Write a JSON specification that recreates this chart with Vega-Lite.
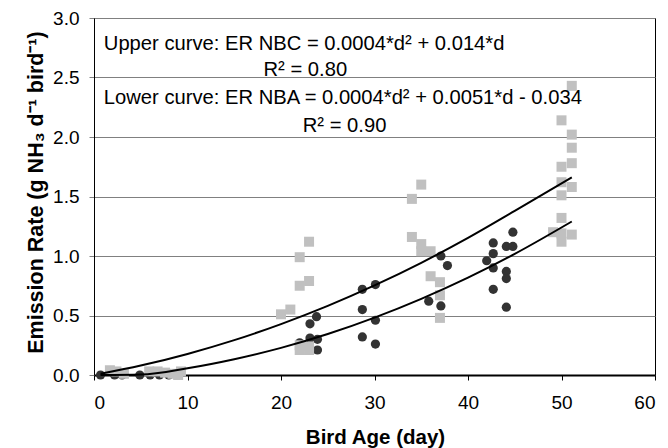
{
  "$schema": "https://vega.github.io/schema/vega-lite/v6.json",
  "width": 561,
  "height": 357,
  "autosize": "none",
  "padding": {"left": 94, "top": 18, "right": 13, "bottom": 73},
  "background": "white",
  "config": {
    "font": "Liberation Sans",
    "view": {"stroke": "#000000", "strokeWidth": 1},
    "axis": {"labelFont": "Liberation Sans", "titleFont": "Liberation Sans", "labelColor": "#000", "titleColor": "#000"}
  },
  "datasets": {
    "nbc": [
      {"day": 1.7, "er": 0.04}, {"day": 2.4, "er": 0.03}, {"day": 3.2, "er": 0.01},
      {"day": 5.9, "er": 0.03}, {"day": 6.8, "er": 0.03}, {"day": 7.6, "er": 0.02},
      {"day": 8.4, "er": 0.01}, {"day": 9.3, "er": 0.03}, {"day": 9.0, "er": 0.0},
      {"day": 20.0, "er": 0.51}, {"day": 21.0, "er": 0.55}, {"day": 22.0, "er": 0.99},
      {"day": 23.0, "er": 1.12}, {"day": 22.0, "er": 0.75}, {"day": 23.0, "er": 0.79},
      {"day": 22.0, "er": 0.21}, {"day": 23.0, "er": 0.21}, {"day": 22.0, "er": 0.25},
      {"day": 23.0, "er": 0.24},
      {"day": 34.0, "er": 1.48}, {"day": 35.0, "er": 1.60}, {"day": 34.0, "er": 1.16},
      {"day": 35.0, "er": 1.10}, {"day": 35.0, "er": 1.04}, {"day": 36.0, "er": 1.04},
      {"day": 36.0, "er": 0.83}, {"day": 37.0, "er": 0.78}, {"day": 37.0, "er": 0.67},
      {"day": 37.0, "er": 0.48},
      {"day": 51.1, "er": 2.43}, {"day": 50.0, "er": 2.14}, {"day": 51.1, "er": 2.02},
      {"day": 51.1, "er": 1.91}, {"day": 50.0, "er": 1.75}, {"day": 51.1, "er": 1.78},
      {"day": 50.0, "er": 1.62}, {"day": 51.1, "er": 1.58}, {"day": 50.0, "er": 1.51},
      {"day": 50.0, "er": 1.32}, {"day": 49.1, "er": 1.20}, {"day": 50.0, "er": 1.19},
      {"day": 51.1, "er": 1.18}, {"day": 50.0, "er": 1.12}
    ],
    "nba": [
      {"day": 0.7, "er": 0.0}, {"day": 2.2, "er": 0.0}, {"day": 3.0, "er": 0.0},
      {"day": 4.9, "er": 0.0}, {"day": 6.0, "er": 0.0}, {"day": 7.0, "er": 0.0},
      {"day": 8.0, "er": 0.0},
      {"day": 23.8, "er": 0.49}, {"day": 23.1, "er": 0.43}, {"day": 22.0, "er": 0.27},
      {"day": 23.1, "er": 0.31}, {"day": 23.9, "er": 0.30}, {"day": 23.9, "er": 0.21},
      {"day": 22.0, "er": 0.24},
      {"day": 28.7, "er": 0.72}, {"day": 30.1, "er": 0.76}, {"day": 28.7, "er": 0.55},
      {"day": 30.1, "er": 0.46}, {"day": 28.7, "er": 0.32}, {"day": 30.1, "er": 0.26},
      {"day": 37.1, "er": 1.00}, {"day": 37.8, "er": 0.92}, {"day": 35.8, "er": 0.62},
      {"day": 37.1, "er": 0.58},
      {"day": 44.8, "er": 1.20}, {"day": 42.7, "er": 1.11}, {"day": 44.1, "er": 1.08},
      {"day": 44.8, "er": 1.08}, {"day": 42.7, "er": 1.02}, {"day": 42.0, "er": 0.96},
      {"day": 42.7, "er": 0.90}, {"day": 44.1, "er": 0.87}, {"day": 44.1, "er": 0.81},
      {"day": 42.7, "er": 0.72}, {"day": 44.1, "er": 0.57}
    ],
    "curves": [
      {"curve": "upper", "day": 0.7, "er": 0.01}, {"curve": "upper", "day": 5, "er": 0.079},
      {"curve": "upper", "day": 10, "er": 0.177}, {"curve": "upper", "day": 15, "er": 0.293},
      {"curve": "upper", "day": 20, "er": 0.428}, {"curve": "upper", "day": 25, "er": 0.581},
      {"curve": "upper", "day": 30, "er": 0.753}, {"curve": "upper", "day": 35, "er": 0.943},
      {"curve": "upper", "day": 40, "er": 1.152}, {"curve": "upper", "day": 45, "er": 1.379},
      {"curve": "upper", "day": 51.1, "er": 1.66},
      {"curve": "lower", "day": 0.7, "er": 0.0}, {"curve": "lower", "day": 5, "er": 0.004},
      {"curve": "lower", "day": 10, "er": 0.057}, {"curve": "lower", "day": 15, "er": 0.133},
      {"curve": "lower", "day": 20, "er": 0.228}, {"curve": "lower", "day": 25, "er": 0.344},
      {"curve": "lower", "day": 30, "er": 0.482}, {"curve": "lower", "day": 35, "er": 0.640},
      {"curve": "lower", "day": 40, "er": 0.818}, {"curve": "lower", "day": 45, "er": 1.018},
      {"curve": "lower", "day": 51.1, "er": 1.29}
    ],
    "notes": [
      {"label": "Upper curve: ER NBC = 0.0004*d² + 0.014*d", "day": 1.05, "er": 2.735, "align": "left"},
      {"label": "R² = 0.80", "day": 22.6, "er": 2.51, "align": "center"},
      {"label": "Lower curve: ER NBA = 0.0004*d² + 0.0051*d - 0.034", "day": 1.05, "er": 2.275, "align": "left"},
      {"label": "R² = 0.90", "day": 26.8, "er": 2.045, "align": "center"}
    ]
  },
  "layer": [
    {
      "data": {"name": "nba"},
      "mark": {"type": "circle", "size": 85, "color": "#333333", "opacity": 1},
      "encoding": {
        "x": {
          "field": "day", "type": "quantitative",
          "scale": {"domain": [0, 60], "nice": false, "zero": false},
          "axis": {
            "title": "Bird Age (day)", "values": [0, 10, 20, 30, 40, 50, 60], "format": "d",
            "grid": false, "domainColor": "#000", "domainWidth": 2,
            "tickColor": "#000", "tickSize": 5, "labelFontSize": 19, "labelPadding": 13,
            "titleFontSize": 20.5, "titleFontWeight": "bold",
            "titleBaseline": "alphabetic", "titleY": 68, "titleX": 281
          }
        },
        "y": {
          "field": "er", "type": "quantitative",
          "scale": {"domain": [0, 3], "nice": false},
          "axis": {
            "title": "Emission Rate (g NH₃ d⁻¹ bird⁻¹)", "values": [0, 0.5, 1, 1.5, 2, 2.5, 3], "format": ".1f",
            "grid": true, "gridColor": "#808080", "gridWidth": 1, "gridOpacity": 1,
            "domainColor": "#000", "tickColor": "#808080", "tickSize": 5,
            "labelFontSize": 19, "labelPadding": 10,
            "titleFontSize": 21.5, "titleFontWeight": "bold",
            "titleAngle": -90, "titleAlign": "center", "titleBaseline": "middle",
            "titleX": -58, "titleY": 174
          }
        }
      }
    },
    {
      "data": {"name": "nbc"},
      "mark": {"type": "square", "size": 100, "color": "#C0C0C0", "opacity": 1},
      "encoding": {
        "x": {"field": "day", "type": "quantitative"},
        "y": {"field": "er", "type": "quantitative"}
      }
    },
    {
      "data": {"name": "curves"},
      "mark": {"type": "line", "color": "#000000", "strokeWidth": 2, "interpolate": "monotone"},
      "encoding": {
        "x": {"field": "day", "type": "quantitative"},
        "y": {"field": "er", "type": "quantitative"},
        "detail": {"field": "curve", "type": "nominal"}
      }
    },
    {
      "data": {"name": "notes"},
      "transform": [{"filter": "datum.align === 'left'"}],
      "mark": {"type": "text", "align": "left", "baseline": "alphabetic", "fontSize": 20.2, "color": "#000"},
      "encoding": {
        "x": {"field": "day", "type": "quantitative"},
        "y": {"field": "er", "type": "quantitative"},
        "text": {"field": "label"}
      }
    },
    {
      "data": {"name": "notes"},
      "transform": [{"filter": "datum.align === 'center'"}],
      "mark": {"type": "text", "align": "center", "baseline": "alphabetic", "fontSize": 20.2, "color": "#000"},
      "encoding": {
        "x": {"field": "day", "type": "quantitative"},
        "y": {"field": "er", "type": "quantitative"},
        "text": {"field": "label"}
      }
    }
  ]
}
